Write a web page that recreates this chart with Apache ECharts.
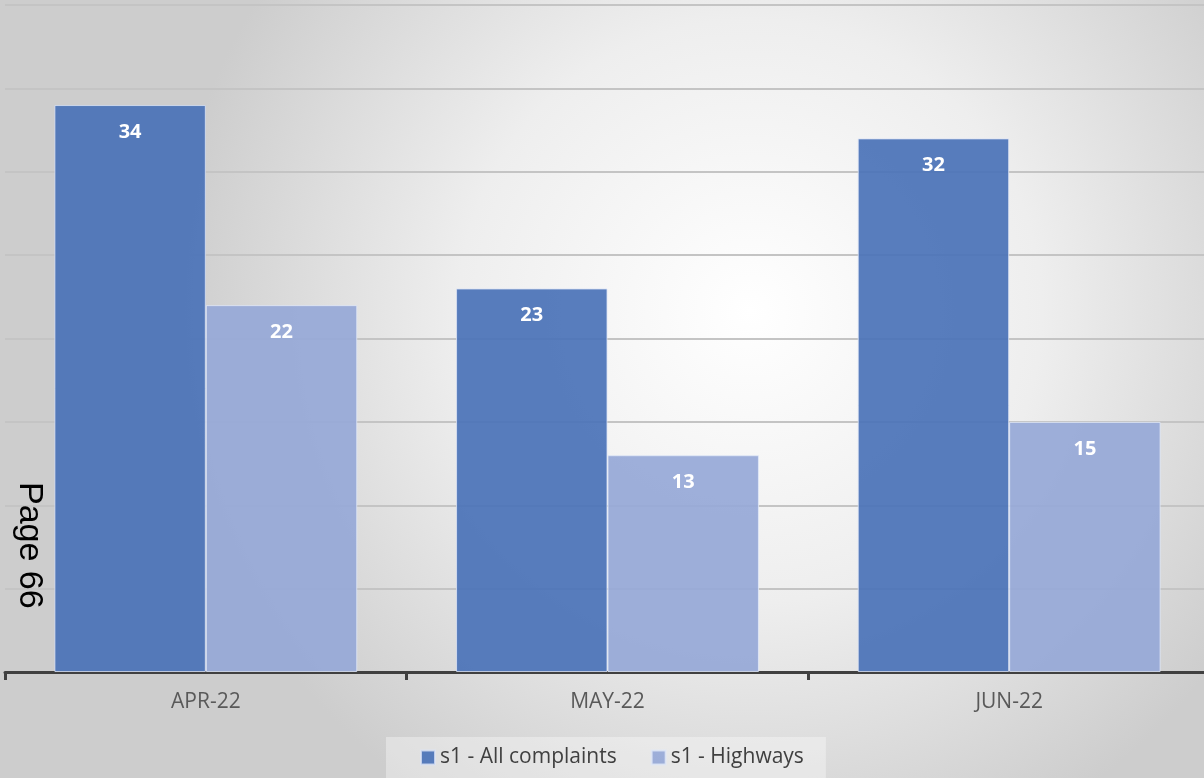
<!DOCTYPE html>
<html>
<head>
<meta charset="utf-8">
<script src="https://cdn.jsdelivr.net/npm/echarts@6/dist/echarts.min.js"></script>
<style>
  html, body { margin: 0; padding: 0; overflow: hidden; }
  /* the plot runs a few pixels past the right edge in the original */
  #chart { width: 1210px; height: 778px; }
</style>
</head>
<body>
<div id="chart"></div>
<script>
// data
var months = ['APR-22', 'MAY-22', 'JUN-22'];
var allComplaints = [34, 23, 32];
var highways = [22, 13, 15];
var seriesNames = ['s1 - All complaints', 's1 - Highways'];

var chart = echarts.init(document.getElementById('chart'));

var labelStyle = {
    show: true,
    position: 'insideTop',
    distance: 17,
    color: '#fff',
    fontWeight: 'bold',
    fontSize: 20,
    fontFamily: 'Open Sans'
};

chart.setOption({
    backgroundColor: {
        type: 'radial', x: 0.62, y: 0.4, r: 0.75,
        colorStops: [
            { offset: 0, color: '#ffffff' },
            { offset: 0.5, color: '#eeeeee' },
            { offset: 1, color: '#cdcdcd' }
        ]
    },
    animation: false,
    grid: { left: 5, top: 5, right: 0, height: 667 },
    legend: {
        bottom: 0,
        left: 386,
        itemWidth: 14,
        itemHeight: 14,
        itemGap: 34,
        padding: [10, 22, 10, 34],
        backgroundColor: 'rgba(255,255,255,0.35)',
        icon: 'rect',
        textStyle: { fontSize: 21, color: '#404040', fontFamily: 'Open Sans' },
        data: seriesNames
    },
    xAxis: {
        type: 'category',
        data: months,
        axisLine: { lineStyle: { color: '#404040', width: 3 } },
        axisTick: { show: true, length: 8, lineStyle: { color: '#404040', width: 3 } },
        axisLabel: { margin: 20, fontSize: 21, color: '#595959', fontFamily: 'Open Sans' }
    },
    yAxis: {
        type: 'value',
        min: 0,
        max: 40,
        interval: 5,
        axisLabel: { show: false },
        axisLine: { show: false },
        axisTick: { show: false },
        splitLine: { lineStyle: { color: '#c4c4c4', width: 2 } }
    },
    graphic: [{
        type: 'text',
        z: 100,
        left: 12,
        top: 482,
        rotation: -Math.PI / 2,
        style: { text: 'Page 66', fontSize: 34, fill: '#000', fontFamily: 'Liberation Sans' }
    }],
    series: [{
        name: seriesNames[0],
        type: 'bar',
        data: allComplaints,
        barGap: '0%',
        barCategoryGap: '24.6%',
        itemStyle: { color: 'rgba(74,114,183,0.92)', borderColor: 'rgba(220,228,245,0.8)', borderWidth: 1 },
        label: labelStyle
    }, {
        name: seriesNames[1],
        type: 'bar',
        data: highways,
        barGap: '0%',
        barCategoryGap: '24.6%',
        itemStyle: { color: 'rgba(150,168,215,0.92)', borderColor: 'rgba(225,232,248,0.8)', borderWidth: 1 },
        label: labelStyle
    }]
});
</script>
</body>
</html>
